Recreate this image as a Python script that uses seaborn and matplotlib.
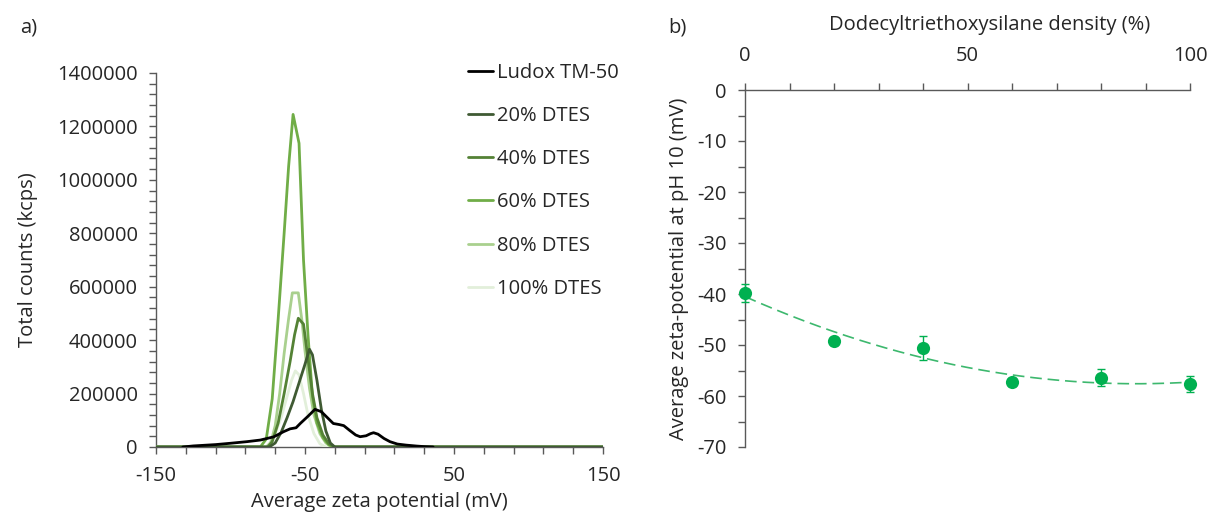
import numpy as np
import pandas as pd
import matplotlib
matplotlib.use("Agg")
import matplotlib.pyplot as plt
import seaborn as sns
from matplotlib.ticker import FixedLocator, MultipleLocator, FuncFormatter

# ---- panel a: zeta potential distributions ----
ludox_x = [-132, -125, -110, -100, -89, -80, -71, -64.5, -60, -56, -53, -48, -43.3, -39, -35, -31,
           -27, -24, -20, -16, -13, -9, -6, -4, -1, 3, 7, 12, 18, 25, 30, 36]
ludox_y = [0, 4000, 9000, 14000, 20000, 26000, 38000, 57000, 68000, 72000, 89000, 115000, 141000,
           132000, 110000, 88000, 84000, 80000, 62000, 45000, 38500, 42000, 50000, 53500, 48000,
           32000, 20000, 11000, 7000, 3500, 1500, 0]

dtes20_x = [-150, -74, -70, -66, -62, -58, -54, -50, -47, -45, -42, -39, -36, -33, -30, 150]
dtes20_y = [0, 0, 15000, 55000, 110000, 170000, 240000, 310000, 366000, 345000, 250000,
            140000, 60000, 15000, 0, 0]

dtes40_x = [-150, -75, -72, -68, -64, -60, -57, -54.5, -51, -48, -45, -42, -38, -34, -30, 150]
dtes40_y = [0, 0, 20000, 90000, 200000, 320000, 420000, 482000, 460000, 330000, 200000,
            110000, 45000, 12000, 0, 0]

dtes60_x = [-150, -80, -76, -72, -68, -64, -61, -58, -54, -51, -48, -45, -42, -38, -34, -31, 150]
dtes60_y = [0, 0, 30000, 180000, 480000, 800000, 1050000, 1245000, 1137000, 700000, 420000,
            190000, 90000, 35000, 8000, 0, 0]

dtes80_x = [-150, -76, -73, -70, -67, -64, -61, -58.5, -54.5, -52, -50, -47, -44, -40, -36, -32, 150]
dtes80_y = [0, 0, 15000, 80000, 200000, 350000, 480000, 577000, 577000, 470000, 360000,
            220000, 120000, 50000, 15000, 0, 0]

dtes100_x = [-150, -76, -73, -70, -66, -62, -59, -56.5, -54, -51, -48, -44, -40, -36, 150]
dtes100_y = [0, 0, 20000, 50000, 110000, 190000, 250000, 285000, 270000, 200000, 120000,
             50000, 12000, 0, 0]

series_names = ["Ludox TM-50", "20% DTES", "40% DTES", "60% DTES", "80% DTES", "100% DTES"]
series_colors = ["#000000", "#3F5A33", "#548235", "#70AD47", "#A9D08E", "#E2EFDA"]

# ---- panel b: average zeta potential vs silane density ----
density = [0, 20, 40, 60, 80, 100]
zeta_mean = [-39.8, -49.3, -50.6, -57.2, -56.4, -57.7]
zeta_err = [1.8, 0.7, 2.3, 0.8, 1.6, 1.6]

frames = []
for name, xs, ys in zip(series_names,
                        [ludox_x, dtes20_x, dtes40_x, dtes60_x, dtes80_x, dtes100_x],
                        [ludox_y, dtes20_y, dtes40_y, dtes60_y, dtes80_y, dtes100_y]):
    frames.append(pd.DataFrame({"zeta": xs, "counts": ys, "sample": name}))
dist = pd.concat(frames, ignore_index=True)

sns.set_theme(style="white")
plt.rcParams["font.family"] = ["Open Sans", "DejaVu Sans"]
plt.rcParams["axes.unicode_minus"] = False
FS = 14.5
plt.rcParams["font.size"] = FS
text_color = "#262626"
axis_color = "#595959"

fig = plt.figure(figsize=(12.11, 5.20), dpi=100)
ax1 = fig.add_axes([156 / 1211, 1 - 447 / 520, (603 - 156) / 1211, (447 - 73) / 520])
ax2 = fig.add_axes([745 / 1211, 1 - 447 / 520, (1190 - 745) / 1211, (447 - 90) / 520])

# lightest curves first so the darker ones sit on top
for name in reversed(series_names):
    i = series_names.index(name)
    sns.lineplot(data=dist[dist["sample"] == name], x="zeta", y="counts", ax=ax1,
                 color=series_colors[i], linewidth=2.0, estimator=None, sort=False,
                 legend=False, zorder=11 if i == 0 else 10 - i)

ax1.set_xlim(-150, 150)
ax1.set_ylim(0, 1400000)
ax1.xaxis.set_major_locator(FixedLocator([-150, -50, 50, 150]))
ax1.xaxis.set_minor_locator(FixedLocator(np.arange(-150, 151, 20)))
ax1.yaxis.set_major_locator(MultipleLocator(200000))
ax1.yaxis.set_minor_locator(MultipleLocator(40000))
ax1.yaxis.set_major_formatter(FuncFormatter(lambda v, p: f"{int(v)}"))
for s in ["top", "right"]:
    ax1.spines[s].set_visible(False)
for s in ["left", "bottom"]:
    ax1.spines[s].set_color(axis_color)
    ax1.spines[s].set_linewidth(1.0)
ax1.tick_params(which="both", direction="out", color=axis_color, width=1.0, length=5,
                labelsize=FS, labelcolor=text_color, bottom=True, left=True)
ax1.tick_params(axis="x", pad=9)
ax1.tick_params(axis="y", pad=8)
ax1.set_xlabel("Average zeta potential (mV)", fontsize=FS, color=text_color, labelpad=4)
ax1.set_ylabel("Total counts (kcps)", fontsize=FS, color=text_color, labelpad=14)

handles = [plt.Line2D([], [], color=c, linewidth=2.0) for c in series_colors]
ax1.legend(handles, series_names, loc="upper left", frameon=False,
           bbox_to_anchor=(468 / 1211, 1 - 63 / 520), bbox_transform=fig.transFigure,
           handlelength=1.25, handletextpad=0.2, labelspacing=1.15, fontsize=FS,
           labelcolor=text_color, borderaxespad=0, borderpad=0)

# panel b
green = "#00B050"
coef = np.polyfit(density, zeta_mean, 2)
fit_x = np.linspace(0, 100, 200)
ax2.plot(fit_x, np.polyval(coef, fit_x), linestyle=(0, (7, 3.5)), color="#3DB86E",
         linewidth=1.2, zorder=2)
ax2.errorbar(density, zeta_mean, yerr=zeta_err, fmt="none", ecolor=green, elinewidth=1.0,
             capsize=3, capthick=1.0, zorder=3, clip_on=False)
sns.scatterplot(x=density, y=zeta_mean, ax=ax2, color=green, s=90, edgecolor=green,
                linewidth=0, zorder=4, clip_on=False, legend=False)

ax2.set_xlim(0, 100)
ax2.set_ylim(-70, 0)
ax2.xaxis.set_ticks_position("top")
ax2.xaxis.set_label_position("top")
ax2.xaxis.set_major_locator(MultipleLocator(50))
ax2.xaxis.set_minor_locator(MultipleLocator(10))
ax2.yaxis.set_major_locator(MultipleLocator(10))
ax2.yaxis.set_minor_locator(MultipleLocator(5))
for s in ["bottom", "right"]:
    ax2.spines[s].set_visible(False)
for s in ["left", "top"]:
    ax2.spines[s].set_color(axis_color)
    ax2.spines[s].set_linewidth(1.0)
ax2.tick_params(which="both", direction="out", color=axis_color, width=1.0, length=5,
                labelsize=FS, labelcolor=text_color, top=True, left=True, bottom=False)
ax2.tick_params(axis="x", pad=12)
ax2.tick_params(axis="y", pad=8)
ax2.set_xlabel("Dodecyltriethoxysilane density (%)", fontsize=FS, color=text_color)
ax2.xaxis.set_label_coords(0.55, 1 + 60 / 357)
ax2.set_ylabel("Average zeta-potential at pH 10 (mV)", fontsize=FS, color=text_color, labelpad=6)

fig.text(20 / 1211, 1 - 28 / 520, "a)", fontsize=FS, color=text_color, va="center")
fig.text(668 / 1211, 1 - 28 / 520, "b)", fontsize=FS, color=text_color, va="center")

fig.savefig("out.png", dpi=100, facecolor="white")
